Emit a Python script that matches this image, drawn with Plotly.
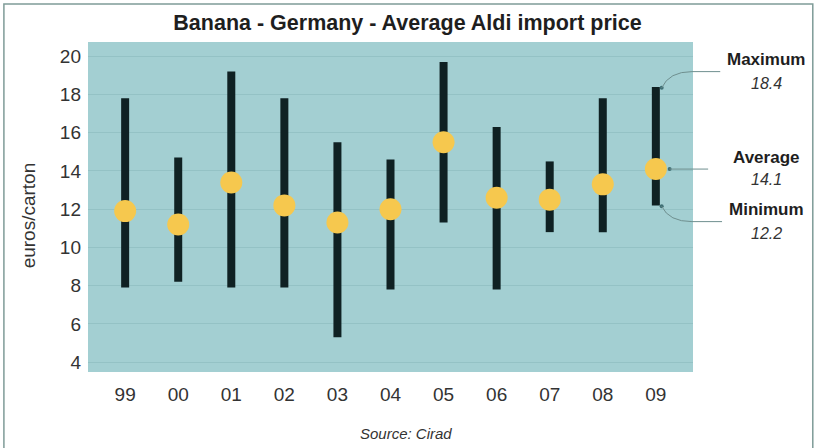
import plotly.graph_objects as go

years = ["99", "00", "01", "02", "03", "04", "05", "06", "07", "08", "09"]
price_max = [17.8, 14.7, 19.2, 17.8, 15.5, 14.6, 19.7, 16.3, 14.5, 17.8, 18.4]
price_min = [7.9, 8.2, 7.9, 7.9, 5.3, 7.8, 11.3, 7.8, 10.8, 10.8, 12.2]
price_avg = [11.9, 11.2, 13.4, 12.2, 11.3, 12.0, 15.5, 12.6, 12.5, 13.3, 14.1]
y_ticks = [4, 6, 8, 10, 12, 14, 16, 18, 20]

X_RANGE = [-0.7, 10.7]
Y_RANGE = [3.48, 20.75]
FONT = "Liberation Sans, Arial, sans-serif"

xs = list(range(len(years)))

# vertical range strokes
lx, ly = [], []
for i, (lo, hi) in enumerate(zip(price_min, price_max)):
    lx += [i, i, None]
    ly += [lo, hi, None]

fig = go.Figure()
fig.add_trace(go.Scatter(
    x=lx, y=ly, mode="lines",
    line=dict(color="#0f2123", width=8),
    hoverinfo="skip", showlegend=False))
fig.add_trace(go.Scatter(
    x=xs, y=price_avg, mode="markers",
    marker=dict(color="#f6c84e", size=22, line=dict(width=0)),
    showlegend=False))

# callout dots for the last year
last = len(years) - 1
dot_x = [last + 0.11, last + 0.26, last + 0.11]
dot_y = [price_max[last] - 0.05, price_avg[last], price_min[last] - 0.05]
fig.add_trace(go.Scatter(
    x=dot_x, y=dot_y, mode="markers",
    marker=dict(color="#3f6f74", size=4),
    hoverinfo="skip", showlegend=False, cliponaxis=False))


def px_x(v):
    return (v - X_RANGE[0]) / (X_RANGE[1] - X_RANGE[0])


line_col = "#6f8f8f"
# connectors (x in paper, y in data)
sx = px_x(dot_x[0])
fig.add_shape(type="path", xref="paper", yref="y",
              path=f"M {sx},{dot_y[0]} Q {sx+0.012},{dot_y[0]+0.85} {sx+0.05},{dot_y[0]+0.85} L 1.045,{dot_y[0]+0.85}",
              line=dict(color=line_col, width=1))
sx = px_x(dot_x[1])
fig.add_shape(type="line", xref="paper", yref="y",
              x0=sx, x1=1.025, y0=dot_y[1], y1=dot_y[1],
              line=dict(color=line_col, width=1))
sx = px_x(dot_x[2])
fig.add_shape(type="path", xref="paper", yref="y",
              path=f"M {sx},{dot_y[2]} Q {sx+0.012},{dot_y[2]-0.8} {sx+0.05},{dot_y[2]-0.8} L 1.048,{dot_y[2]-0.8}",
              line=dict(color=line_col, width=1))

# outer frame
fig.add_shape(type="path", xref="paper", yref="paper",
              path="M -0.139,-0.23 L -0.139,1.115 L 1.198,1.115 L 1.198,-0.23",
              line=dict(color="#7f9c98", width=1.5))

labels = [("Maximum", f"{price_max[last]}", 19.81, 18.6),
          ("Average", f"{price_avg[last]}", 14.73, 13.53),
          ("Minimum", f"{price_min[last]}", 11.96, 10.75)]
for name, val, y1, y2 in labels:
    fig.add_annotation(x=1.1207, y=y1, xref="paper", yref="y", text=f"<b>{name}</b>",
                       showarrow=False, font=dict(size=17, color="#1e1e1e", family=FONT),
                       xanchor="center", yanchor="middle")
    fig.add_annotation(x=1.1207, y=y2, xref="paper", yref="y", text=f"<i>{val}</i>",
                       showarrow=False, font=dict(size=16, color="#333", family=FONT),
                       xanchor="center", yanchor="middle")

fig.add_annotation(x=0.526, y=-0.185, xref="paper", yref="paper", text="<i>Source: Cirad</i>",
                   showarrow=False, font=dict(size=15, color="#333", family=FONT),
                   xanchor="center", yanchor="middle")

# y axis title
fig.add_annotation(x=-0.099, y=0.475, xref="paper", yref="paper", text="euros/carton",
                   textangle=-90, showarrow=False, font=dict(size=19, color="#333", family=FONT),
                   xanchor="center", yanchor="middle")

fig.update_layout(
    width=815, height=448,
    margin=dict(l=88, r=122, t=42, b=76),
    paper_bgcolor="white",
    plot_bgcolor="#a3cfd2",
    font=dict(family=FONT, color="#333"),
    title=dict(text="<b>Banana - Germany - Average Aldi import price</b>",
               x=0.5, xanchor="center", y=0.949, yanchor="middle",
               font=dict(size=21.5, color="#1e1e1e", family=FONT)),
    xaxis=dict(range=X_RANGE, tickvals=xs, ticktext=years, showgrid=False,
               zeroline=False, showline=False, ticks="", tickfont=dict(size=19, color="#333"),
               ticklabelstandoff=9),
    yaxis=dict(range=Y_RANGE, tickvals=y_ticks, showgrid=True,
               gridcolor="rgba(120,170,175,0.35)", gridwidth=1,
               zeroline=False, showline=False, ticks="",
               tickfont=dict(size=19, color="#333"), ticklabelstandoff=6),
)

fig.write_html("out.html")
